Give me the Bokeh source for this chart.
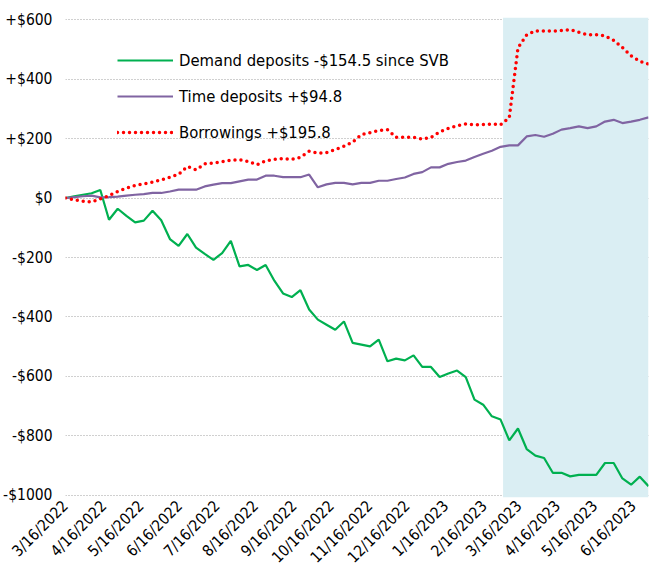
import math
import pandas as pd
from bokeh.plotting import figure
from bokeh.models import Range1d, FixedTicker, Legend, LegendItem
from bokeh.embed import file_html
from bokeh.resources import INLINE

# ---- data (weekly, change since 3/16/2022, $bn) ----
start_date = "2022-03-16"
demand = [0, 6, 11, 16, 27, -73, -36, -60, -82, -76, -43, -75, -138, -161, -121, -167,
          -188, -208, -185, -144, -230, -225, -242, -225, -278, -321, -333, -310, -375, -409,
          -426, -443, -415, -487, -493, -499, -476, -549, -540, -546, -529, -568, -568, -602,
          -590, -580, -602, -678, -695, -734, -745, -815, -775, -844, -866, -874, -924, -924,
          -936, -931, -931, -931, -891, -891, -943, -964, -937, -969]
time_dep = [0, 3, 6, 8, 2, 3, 5, 8, 11, 13, 17, 17, 22, 28, 28, 28, 39, 45, 50, 50, 56, 62,
            62, 75, 75, 70, 70, 70, 79, 36, 46, 51, 51, 46, 51, 51, 58, 58, 64, 69, 81, 87,
            103, 103, 115, 121, 126, 138, 149, 159, 172, 177, 177, 207, 212, 206, 216, 230,
            235, 241, 235, 241, 257, 263, 252, 257, 263, 271]
borrow = [0, -6, -11, -13, -3, 8, 22, 33, 42, 48, 53, 61, 70, 80, 106, 95, 115, 118, 122,
          127, 129, 123, 112, 125, 130, 133, 130, 137, 157, 151, 153, 163, 174, 188, 213,
          220, 227, 230, 204, 204, 204, 198, 204, 222, 234, 243, 249, 246, 247, 249, 246,
          270, 505, 548, 562, 562, 561, 563, 566, 557, 549, 549, 545, 530, 506, 478, 460, 450]
svb_start = "2023-03-03"

series_names = ["Demand deposits -$154.5 since SVB", "Time deposits +$94.8", "Borrowings +$195.8"]

x_tick_labels = ["3/16/2022", "4/16/2022", "5/16/2022", "6/16/2022", "7/16/2022", "8/16/2022",
                 "9/16/2022", "10/16/2022", "11/16/2022", "12/16/2022", "1/16/2023", "2/16/2023",
                 "3/16/2023", "4/16/2023", "5/16/2023", "6/16/2023"]
y_ticks = [-1000, -800, -600, -400, -200, 0, 200, 400, 600]
y_tick_labels = ["-$1000", "-$800", "-$600", "-$400", "-$200", "$0", "+$200", "+$400", "+$600"]
y_min, y_max = -1007, 607

# ---- build ----
dates = pd.date_range(start_date, periods=len(demand), freq="7D")
x_ms = [d.value // 10**6 for d in dates]
tick_ms = [float(pd.Timestamp(s).value // 10**6) for s in x_tick_labels]
svb_ms = pd.Timestamp(svb_start).value // 10**6

FONT = "'DejaVu Sans Condensed', 'Liberation Sans', sans-serif"

p = figure(frame_width=583, frame_height=480, x_axis_type="datetime", output_backend="svg",
           toolbar_location=None,
           x_range=Range1d(x_ms[0], x_ms[-1]), y_range=Range1d(y_min, y_max),
           min_border_top=17, min_border_right=2, min_border_left=65, min_border_bottom=10)
p.outline_line_color = None
p.background_fill_color = "white"

# shaded post-SVB period
p.quad(left=[svb_ms], right=[x_ms[-1]], bottom=[y_min], top=[y_max],
       fill_color="#DAEEF3", line_color=None)

r_dem = p.line(x_ms, demand, line_color="#00B050", line_width=2.2)
r_time = p.line(x_ms, time_dep, line_color="#8064A2", line_width=2.2)
r_bor = p.line(x_ms, borrow, line_color="#FF0000", line_width=3.5, line_dash="0 6",
               line_cap="round")

# grid
p.xgrid.grid_line_color = None
p.ygrid.grid_line_color = "#A0A0A0"
p.ygrid.grid_line_dash = "1 2"
p.ygrid.grid_line_width = 1.2
p.ygrid.ticker = FixedTicker(ticks=y_ticks)

# y axis
p.yaxis.ticker = FixedTicker(ticks=y_ticks)
p.yaxis.major_label_overrides = dict(zip(y_ticks, y_tick_labels))
p.yaxis.axis_line_color = None
p.yaxis.major_tick_line_color = None
p.yaxis.minor_tick_line_color = None
p.yaxis.major_tick_out = 0
p.yaxis.major_label_standoff = 13
p.yaxis.major_label_text_font = FONT
p.yaxis.major_label_text_font_size = "15.5px"
p.yaxis.major_label_text_color = "#000000"

# x axis
p.xaxis.ticker = FixedTicker(ticks=tick_ms)
p.xaxis.major_label_overrides = dict(zip(tick_ms, x_tick_labels))
p.xaxis.major_label_orientation = math.pi / 4
p.xaxis.axis_line_color = None
p.xaxis.major_tick_line_color = None
p.xaxis.minor_tick_line_color = None
p.xaxis.major_tick_out = 0
p.xaxis.major_label_standoff = 6
p.xaxis.major_label_text_font = FONT
p.xaxis.major_label_text_font_size = "15.5px"
p.xaxis.major_label_text_color = "#000000"

legend = Legend(items=[LegendItem(label=series_names[0], renderers=[r_dem]),
                       LegendItem(label=series_names[1], renderers=[r_time]),
                       LegendItem(label=series_names[2], renderers=[r_bor])],
                location=(52, 347), orientation="vertical",
                glyph_width=56, glyph_height=36, label_height=36, spacing=0,
                padding=0, margin=0, label_standoff=6,
                border_line_color=None, background_fill_alpha=0,
                label_text_font=FONT, label_text_font_size="16.5px",
                label_text_color="#000000")
p.add_layout(legend, "center")

open("out.html", "w").write(file_html(p, INLINE))
